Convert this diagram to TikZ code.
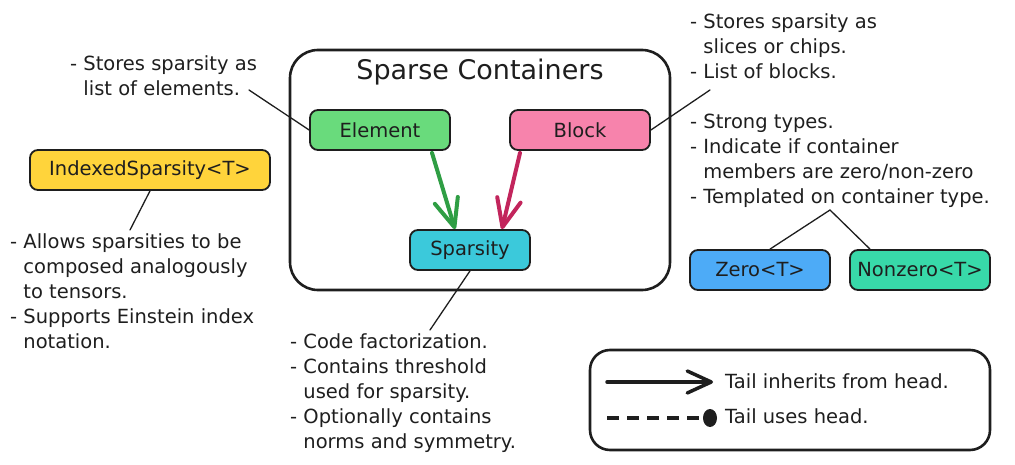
\documentclass[tikz,border=0pt]{standalone}
\usepackage{fontspec}
\setmainfont{DejaVu Sans}
\usetikzlibrary{arrows.meta,shapes.geometric}
\definecolor{ink}{HTML}{1E1E1E}
\definecolor{elemfill}{HTML}{69DB7C}
\definecolor{blockfill}{HTML}{F783AC}
\definecolor{sparsfill}{HTML}{3BC9DB}
\definecolor{idxfill}{HTML}{FFD43B}
\definecolor{zerofill}{HTML}{4DABF7}
\definecolor{nzfill}{HTML}{38D9A9}
\definecolor{greenarrow}{HTML}{2F9E44}
\definecolor{pinkarrow}{HTML}{C2255C}
\begin{document}
\begin{tikzpicture}[x=1pt,y=-1pt,
  box/.style={draw=ink, line width=1.8pt, rounded corners=8pt, minimum width=140pt,
    minimum height=40pt, inner sep=0pt, text=ink, font=\fontsize{19.5}{25}\selectfont},
  note/.style={align=left, anchor=north west, inner sep=0pt, text=ink,
    font=\fontsize{19.5}{25}\selectfont},
  label/.style={anchor=base west, inner sep=0pt, text=ink, font=\fontsize{19.5}{25}\selectfont},
  link/.style={draw=ink, line width=1.3pt, line cap=round},
  inherit/.style={line width=4pt, line cap=round,
    -{Straight Barb[length=28pt,width=24pt,line cap=round,line join=round]}},
  legarrow/.style={line width=3.5pt, line cap=round,
    -{Straight Barb[length=24pt,width=22pt,line cap=round,line join=round]}}]
\useasboundingbox (0,0) rectangle (1015,465);

% container
\node[draw=ink, line width=2.6pt, rounded corners=28pt, minimum width=380pt,
  minimum height=240pt, inner sep=0pt] (cont) at (480,170) {};
\node[anchor=base, inner sep=0pt, text=ink, font=\fontsize{27}{32}\selectfont]
  (title) at (480,80) {Sparse Containers};

% boxes
\node[box, fill=elemfill] (elem) at (380,130) {Element};
\node[box, fill=blockfill] (block) at (580,130) {Block};
\node[box, fill=sparsfill, minimum width=120pt] (spars) at (470,250) {Sparsity};
\node[box, fill=idxfill, minimum width=240pt] (idx) at (150,170) {IndexedSparsity<T>};
\node[box, fill=zerofill] (zero) at (760,270) {Zero<T>};
\node[box, fill=nzfill] (nz) at (920,270) {Nonzero<T>};

% notes
\node[note] (n1) at (70,52.5) {\strut- Stores sparsity as\\\hphantom{- }list of elements.};
\node[note] (n2) at (10,230.5) {\strut- Allows sparsities to be\\\hphantom{- }composed analogously\\\hphantom{- }to tensors.\\- Supports Einstein index\\\hphantom{- }notation.};
\node[note] (n3) at (690,10.5) {\strut- Stores sparsity as\\\hphantom{- }slices or chips.\\- List of blocks.};
\node[note] (n4) at (690,110.5) {\strut- Strong types.\\- Indicate if container\\\hphantom{- }members are zero/non-zero\\- Templated on container type.};
\node[note] (n5) at (290,330.5) {\strut- Code factorization.\\- Contains threshold\\\hphantom{- }used for sparsity.\\- Optionally contains\\\hphantom{- }norms and symmetry.};

% connector ends
\coordinate (c1) at (249,90);
\coordinate (c2) at (130,230);
\coordinate (c3) at (710,90);
\coordinate (c4) at (830,210);
\coordinate (c5) at (430,330);

\draw[link] (c1) -- (elem.west);
\draw[link] (idx.south) -- (c2);
\draw[link] (block.east) -- (c3);
\draw[link] ([xshift=10pt]zero.north) -- (c4) -- ([xshift=-50pt]nz.north);
\draw[link] (spars.south) -- (c5);

% inheritance arrows
\draw[inherit, greenarrow] ([xshift=52pt,yshift=-2pt]elem.south) -- ([xshift=-15pt]spars.north);
\draw[inherit, pinkarrow] ([xshift=-60pt,yshift=-2pt]block.south) -- ([xshift=32pt]spars.north);

% legend
\node[draw=ink, line width=2.6pt, rounded corners=20pt, minimum width=400pt,
  minimum height=100pt, inner sep=0pt] (legend) at (790,400) {};
\coordinate (la) at (607,382);
\coordinate (lb) at (713,382);
\coordinate (lc) at (607,418);
\node[ellipse, fill=ink, inner sep=0pt, minimum width=14pt, minimum height=18pt] (dot) at (710,418) {};
\draw[legarrow, ink] (la) -- (lb);
\draw[ink, line width=3.5pt, dash pattern=on 12pt off 8pt] (lc) -- (dot.west);
\node[label] (t1) at (725,388) {Tail inherits from head.};
\node[label] (t2) at (725,423) {Tail uses head.};
\end{tikzpicture}
\end{document}
